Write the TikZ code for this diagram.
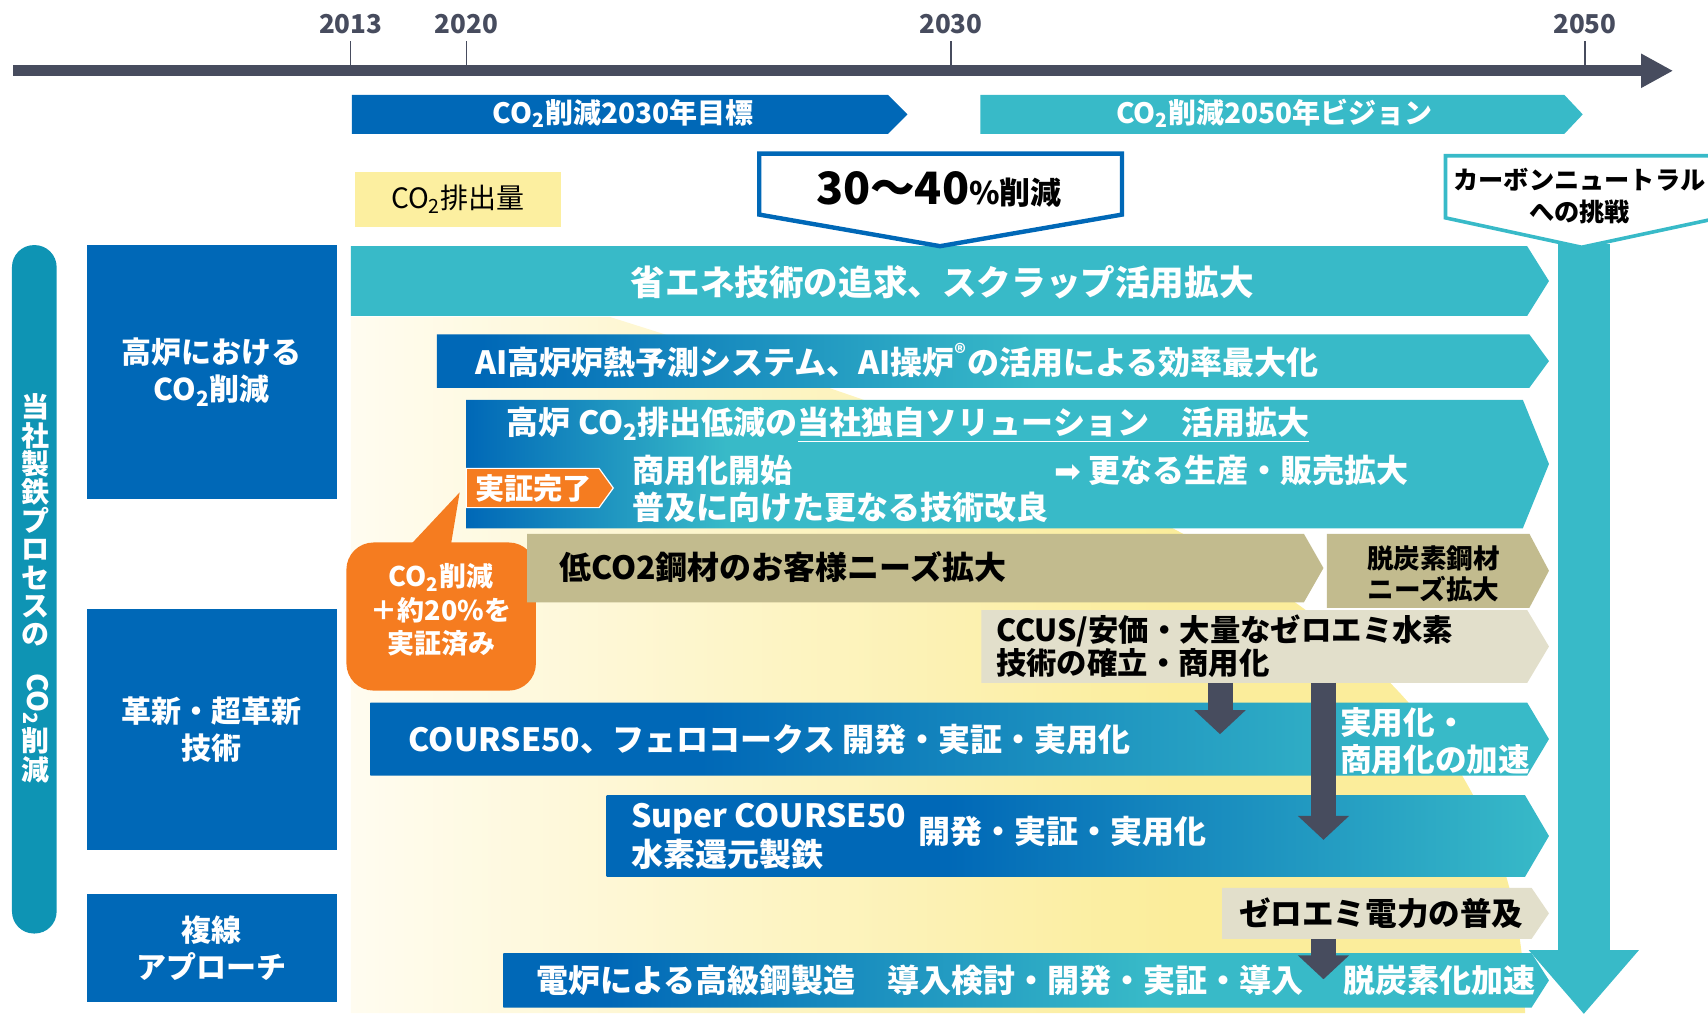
\documentclass[tikz,border=0pt]{standalone}
\usepackage{fontspec}
\usepackage{graphicx}
\setmainfont{Noto Sans CJK JP}
\newfontfamily\dejavu{DejaVu Sans}
\usetikzlibrary{arrows.meta}

\definecolor{cblue}{RGB}{0,104,183}
\definecolor{cteal}{RGB}{56,186,200}
\definecolor{cside}{RGB}{14,148,180}
\definecolor{cslate}{RGB}{71,76,94}
\definecolor{corange}{RGB}{245,124,32}
\definecolor{ckhaki}{RGB}{194,187,142}
\definecolor{cbeige}{RGB}{226,223,203}
\definecolor{cyellow}{RGB}{252,239,160}
\definecolor{ccream}{RGB}{255,252,240}
\definecolor{cbgyel}{RGB}{251,237,155}

\pgfdeclarehorizontalshading{bgshade}{100bp}{color(0bp)=(ccream); color(25bp)=(ccream); color(60bp)=(cbgyel); color(100bp)=(cbgyel)}
\pgfdeclarehorizontalshading{aishade}{100bp}{color(0bp)=(cblue); color(27bp)=(cblue); color(52bp)=(cteal); color(100bp)=(cteal)}
\pgfdeclarehorizontalshading{koroshade}{100bp}{color(0bp)=(cblue); color(25bp)=(cblue); color(37bp)=(cteal); color(100bp)=(cteal)}
\pgfdeclarehorizontalshading{cfiftyshade}{100bp}{color(0bp)=(cblue); color(39bp)=(cblue); color(70bp)=(cteal); color(100bp)=(cteal)}
\pgfdeclarehorizontalshading{scfiftyshade}{100bp}{color(0bp)=(cblue); color(43bp)=(cblue); color(75bp)=(cteal); color(100bp)=(cteal)}
\pgfdeclarehorizontalshading{eafshade}{100bp}{color(0bp)=(cblue); color(30bp)=(cblue); color(56bp)=(cteal); color(100bp)=(cteal)}

\newcommand{\jfs}[2]{\fontsize{#1pt}{#2pt}\selectfont}
\newcommand{\COtwo}{CO\textsubscript{2}}
% arrow shaped bar: style, x1, y1, x2 (tip), y2, tip length
\newcommand{\rbar}[6]{\path[#1] (#2,#3) -- ({#4-#6},#3) -- (#4,{(#3+#5)/2}) -- ({#4-#6},#5) -- (#2,#5) -- cycle;}

\tikzset{wtxt/.style 2 args={text=white, inner sep=0pt, font=\bfseries\jfs{#1}{#2}}}
\tikzset{btxt/.style 2 args={text=black, inner sep=0pt, font=\bfseries\jfs{#1}{#2}}}
\tikzset{catbox/.style={fill=cblue, text=white, minimum width=124.7pt, align=center, inner sep=0pt}}
\tikzset{timeline/.style={draw=cslate, line width=5.4pt, -{Triangle[width=16pt,length=16pt]}}}
\tikzset{downarrow/.style={draw=cslate, line width=12.5pt, -{Triangle[width=25pt,length=12pt]}}}
\tikzset{callout/.style={fill=white, line width=2.2pt, line join=miter}}

\begin{document}
\begin{tikzpicture}[x=0.5447pt,y=-0.5447pt]
\useasboundingbox (0,0) rectangle (1568,930);
\clip (0,0) rectangle (1568,930);

%timeline
\coordinate (tstart) at (12,65);
\coordinate (tend) at (1536,65);
\draw[timeline] (tstart) -- (tend);
\foreach \yr/\xx in {2013/322,2020/428,2030/873,2050/1455}{
  \draw[cslate, line width=0.6pt] (\xx,38) -- (\xx,61);
  \node[text=cslate, inner sep=0pt, font=\bfseries\jfs{13}{15}] (yr\yr) at (\xx,22) {\yr};
}

%targets
\rbar{fill=cblue}{323}{87}{833}{123}{18}
\node[wtxt={14}{16}] (goal2030) at (572,104) {\COtwo 削減2030年目標};
\rbar{fill=cteal}{900}{87}{1453}{123}{17}
\node[wtxt={14}{16}] (vision2050) at (1170,104) {\COtwo 削減2050年ビジョン};

\node[fill=cyellow, minimum width=103pt, minimum height=27.2pt, inner sep=0pt, font=\jfs{14}{16}] (emission) at (420.5,183) {\COtwo 排出量};

%background
\shade[shading=bgshade] (322,291) -- (560,291) .. controls (1000,430) and (1400,560) .. (1400,930) -- (322,930) -- cycle;

%left column
\fill[cside, rounded corners=11pt] (11,225) rectangle (52,857);
\node[text=white, inner sep=0pt, align=center, font=\bfseries\jfs{14}{14.2}] (sidetxt) at (33,540) {当\\社\\製\\鉄\\プ\\ロ\\セ\\ス\\の\\\rotatebox{-90}{\COtwo}\\削\\減};

\node[catbox, minimum height=126.9pt, font=\bfseries\jfs{15}{18.5}] (catbf) at (194.5,341.5) {高炉における\\\COtwo 削減};
\node[catbox, minimum height=120.4pt, font=\bfseries\jfs{15}{18.5}] (catinno) at (194.5,669.5) {革新・超革新\\技術};
\node[catbox, minimum height=53.9pt, font=\bfseries\jfs{15}{18.5}] (catmulti) at (194.5,870.5) {複線\\アプローチ};

%bars
\rbar{fill=cteal}{322}{226}{1422}{290}{20}
\node[wtxt={17.3}{20}] (saving) at (865,259) {省エネ技術の追求、スクラップ活用拡大};

\rbar{shade,shading=aishade}{401}{307}{1422}{356}{18}
\node[wtxt={16}{19}, anchor=west] (aiopt) at (436,331) {AI高炉炉熱予測システム、AI操炉\textsuperscript{®}の活用による効率最大化};

\rbar{shade,shading=koroshade}{428}{367}{1422}{485}{24}
\node[wtxt={16}{19}, anchor=west] (bfsol) at (465,390) {高炉 \COtwo 排出低減の\underline{当社独自ソリューション　活用拡大}};
\node[wtxt={16}{18.5}, anchor=west, align=left] (bfcom) at (580,449) {商用化開始\\普及に向けた更なる技術改良};
\node[wtxt={16}{19}, anchor=west] (bfsale) at (968,432) {{\dejavu\mdseries ➡} 更なる生産・販売拡大};

%proof
\rbar{fill=corange, draw=white, line width=0.6pt}{428}{430}{563}{466}{13}
\node[wtxt={14.6}{17}] (proven) at (490,448) {実証完了};
\fill[corange, rounded corners=13.6pt] (318,498) rectangle (492,634);
\fill[corange] (377,500) -- (422,452) -- (414,500) -- cycle;
\node[wtxt={13.5}{16.6}, align=center] (proof20) at (405,560) {\COtwo 削減\\＋約20\%を\\実証済み};

\rbar{fill=ckhaki}{484}{490}{1215}{553}{18}
\node[btxt={16}{19}, anchor=west] (lowco) at (513,521) {低CO2鋼材のお客様ニーズ拡大};
\rbar{fill=ckhaki}{1218}{490}{1422}{558}{18}
\node[btxt={13.3}{15.8}, align=center] (decarb) at (1316,527) {脱炭素鋼材\\ニーズ拡大};

\rbar{fill=cbeige}{901}{560}{1422}{627}{20}
\node[btxt={15.2}{16.3}, anchor=west, align=left] (ccus) at (914,593) {CCUS/安価・大量なゼロエミ水素\\技術の確立・商用化};

\rbar{shade,shading=cfiftyshade}{340}{645}{1422}{712}{20}
\node[wtxt={16}{19}, anchor=west] (cfifty) at (375,679) {COURSE50、フェロコークス 開発・実証・実用化};
\node[wtxt={15.8}{18.5}, anchor=west, align=left] (accel) at (1230,680) {実用化・\\商用化の加速};

\rbar{shade,shading=scfiftyshade}{557}{730}{1422}{805}{22}
\node[wtxt={16}{19.6}, anchor=west, align=left] (scfifty) at (579,768) {Super COURSE50\\水素還元製鉄};
\node[wtxt={16}{19}, anchor=west] (scdev) at (843,763) {開発・実証・実用化};

\rbar{fill=cbeige}{1122}{815}{1422}{862}{16}
\node[btxt={15.8}{19}] (zeropow) at (1268,838) {ゼロエミ電力の普及};

\rbar{shade,shading=eafshade}{462}{875}{1422}{925}{16}
\node[wtxt={16}{19}, anchor=west] (eaf) at (492,900) {電炉による高級鋼製造　導入検討・開発・実証・導入};
\node[wtxt={16}{19}, anchor=west] (eafacc) at (1233,900) {脱炭素化加速};

%down arrows
\coordinate (ccusA) at (1120,627);
\coordinate (cfiftyA) at (1120,674);
\coordinate (ccusB) at (1215,627);
\coordinate (scfiftyB) at (1215,771);
\coordinate (zeroC) at (1215,862);
\coordinate (eafC) at (1215,899);
\draw[downarrow] (ccusA) -- (cfiftyA);
\draw[downarrow] (ccusB) -- (scfiftyB);
\draw[downarrow] (zeroC) -- (eafC);

%carbon neutral arrow
\coordinate (cntop) at (1454,224);
\coordinate (cnend) at (1454,931);
\draw[draw=cteal, line width=26pt, -{Triangle[width=53pt,length=32pt]}] (cntop) -- (cnend);

%callouts
\draw[callout, draw=cblue] (697,141) -- (1030,141) -- (1030,197) -- (863,226) -- (697,197) -- cycle;
\node[inner sep=0pt] (target30) at (862,174) {\bfseries\jfs{22.3}{26}30〜40\jfs{15.5}{18}\%削減};
\draw[callout, draw=cteal, line width=1.8pt] (1327,143) -- (1578,143) -- (1578,200) -- (1452,227) -- (1327,200) -- cycle;
\node[btxt={12.6}{16.3}, align=center] (cnchal) at (1450,180) {カーボンニュートラル\\への挑戦};

\end{tikzpicture}
\end{document}
